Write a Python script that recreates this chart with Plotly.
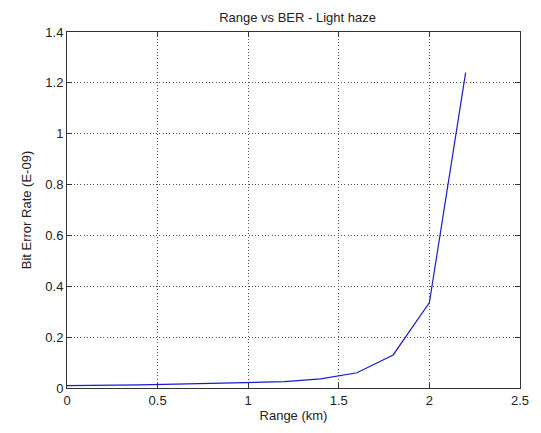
import plotly.graph_objects as go

range_km = [0.0, 0.2, 0.4, 0.6, 0.8, 1.0, 1.2, 1.4, 1.6, 1.8, 2.0, 2.2]
ber_e09 = [0.009, 0.010, 0.012, 0.015, 0.018, 0.021, 0.025, 0.036, 0.060, 0.130, 0.336, 1.240]

x_ticks = [0, 0.5, 1, 1.5, 2, 2.5]
x_tick_labels = ["0", "0.5", "1", "1.5", "2", "2.5"]
y_ticks = [0, 0.2, 0.4, 0.6, 0.8, 1.0, 1.2, 1.4]
y_tick_labels = ["0", "0.2", "0.4", "0.6", "0.8", "1", "1.2", "1.4"]

font = "Liberation Sans, Arial, sans-serif"

fig = go.Figure()
fig.add_trace(go.Scatter(x=range_km, y=ber_e09, mode="lines",
                         line=dict(color="#1a1ad0", width=1.2), showlegend=False))

axis_common = dict(
    showline=True, linecolor="#333333", linewidth=1, mirror="ticks",
    ticks="inside", ticklen=5, tickcolor="#333333",
    showgrid=True, gridcolor="#555555", griddash="1px,2.3px", gridwidth=1,
    zeroline=False, tickfont=dict(family=font, size=13, color="#222222"),
)

fig.update_xaxes(range=[0, 2.5], tickvals=x_ticks, ticktext=x_tick_labels,
                 title=dict(text="Range (km)", font=dict(family=font, size=13, color="#222222"), standoff=4),
                 **axis_common)
fig.update_yaxes(range=[0, 1.4], tickvals=y_ticks, ticktext=y_tick_labels,
                 title=dict(text="Bit Error Rate (E-09)", font=dict(family=font, size=13, color="#222222"), standoff=10),
                 **axis_common)

fig.update_layout(
    width=541, height=433,
    margin=dict(l=67, r=13, t=32, b=40),
    paper_bgcolor="white", plot_bgcolor="white",
    title=dict(text="Range vs BER - Light haze", x=0.55, xanchor="center",
               y=1 - 17 / 433, yanchor="middle",
               font=dict(family=font, size=13, color="#222222")),
)

fig.write_html("out.html")
